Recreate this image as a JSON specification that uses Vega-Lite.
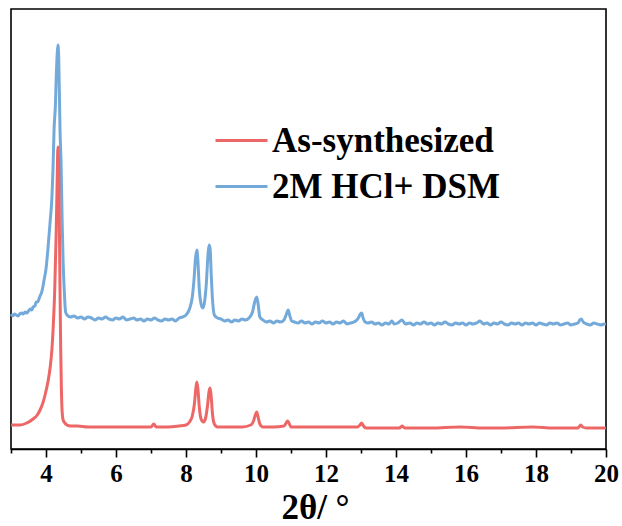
{
  "$schema": "https://vega.github.io/schema/vega-lite/v6.json",
  "width": 595,
  "height": 440,
  "autosize": {"type": "none"},
  "padding": {"left": 11, "top": 9, "right": 16, "bottom": 77},
  "background": "white",
  "config": {
    "view": {"stroke": "black", "strokeWidth": 1.6},
    "font": "Liberation Serif"
  },
  "datasets": {
    "red": [
      {"x":3.00,"y":24},{"x":3.10,"y":24},{"x":3.26,"y":24},{"x":3.45,"y":26},{"x":3.63,"y":30},{"x":3.75,"y":34},{"x":3.83,"y":39},{"x":3.91,"y":46},{"x":3.98,"y":55},{"x":4.06,"y":68},{"x":4.12,"y":82},{"x":4.17,"y":100},{"x":4.21,"y":125},{"x":4.25,"y":160},{"x":4.29,"y":215},{"x":4.32,"y":270},{"x":4.34,"y":302},{"x":4.36,"y":285},{"x":4.38,"y":230},{"x":4.40,"y":160},{"x":4.42,"y":100},{"x":4.44,"y":60},{"x":4.46,"y":38},{"x":4.49,"y":29},{"x":4.54,"y":26},{"x":4.60,"y":24},{"x":4.70,"y":23},{"x":4.90,"y":23},{"x":5.20,"y":22},{"x":5.60,"y":22},{"x":6.00,"y":22},{"x":6.30,"y":22},{"x":6.70,"y":22},{"x":7.00,"y":22},{"x":7.08,"y":25},{"x":7.15,"y":22},{"x":7.50,"y":22},{"x":7.80,"y":23},{"x":8.00,"y":24},{"x":8.10,"y":27},{"x":8.18,"y":33},{"x":8.24,"y":45},{"x":8.28,"y":60},{"x":8.31,"y":67},{"x":8.34,"y":60},{"x":8.38,"y":42},{"x":8.43,"y":30},{"x":8.50,"y":27},{"x":8.56,"y":31},{"x":8.61,"y":42},{"x":8.66,"y":58},{"x":8.69,"y":61},{"x":8.72,"y":52},{"x":8.76,"y":34},{"x":8.81,"y":25},{"x":8.90,"y":22},{"x":9.20,"y":22},{"x":9.60,"y":22},{"x":9.85,"y":24},{"x":9.93,"y":28},{"x":9.98,"y":34},{"x":10.02,"y":37},{"x":10.06,"y":32},{"x":10.11,"y":25},{"x":10.20,"y":22},{"x":10.50,"y":22},{"x":10.80,"y":23},{"x":10.86,"y":26},{"x":10.90,"y":28},{"x":10.94,"y":26},{"x":11.00,"y":22},{"x":11.50,"y":22},{"x":12.00,"y":22},{"x":12.50,"y":22},{"x":12.90,"y":22},{"x":12.97,"y":24},{"x":13.02,"y":26},{"x":13.07,"y":23},{"x":13.15,"y":21},{"x":13.60,"y":21},{"x":14.10,"y":21},{"x":14.17,"y":23},{"x":14.25,"y":21},{"x":15.00,"y":21},{"x":15.83,"y":22},{"x":16.50,"y":21},{"x":17.00,"y":21},{"x":17.90,"y":22},{"x":18.50,"y":21},{"x":19.20,"y":21},{"x":19.25,"y":23},{"x":19.28,"y":24},{"x":19.33,"y":22},{"x":19.45,"y":21},{"x":20.00,"y":21}
    ],
    "blue": [
      {"x":3.00,"y":135},{"x":3.05,"y":133},{"x":3.10,"y":135},{"x":3.15,"y":134},{"x":3.20,"y":133},{"x":3.25,"y":135},{"x":3.30,"y":136},{"x":3.35,"y":135},{"x":3.40,"y":137},{"x":3.45,"y":136},{"x":3.50,"y":138},{"x":3.55,"y":140},{"x":3.60,"y":139},{"x":3.63,"y":142},{"x":3.68,"y":143},{"x":3.72,"y":147},{"x":3.76,"y":147},{"x":3.80,"y":150},{"x":3.83,"y":153},{"x":3.87,"y":156},{"x":3.91,"y":162},{"x":3.95,"y":170},{"x":4.00,"y":180},{"x":4.06,"y":202},{"x":4.12,"y":228},{"x":4.17,"y":252},{"x":4.20,"y":280},{"x":4.23,"y":319},{"x":4.27,"y":345},{"x":4.29,"y":369},{"x":4.32,"y":395},{"x":4.34,"y":404},{"x":4.36,"y":395},{"x":4.38,"y":360},{"x":4.40,"y":320},{"x":4.43,"y":286},{"x":4.46,"y":230},{"x":4.49,"y":186},{"x":4.52,"y":160},{"x":4.56,"y":137},
      {"x":4.60,"y":134},{"x":4.70,"y":132},{"x":4.80,"y":133},{"x":4.90,"y":131},{"x":5.00,"y":132},{"x":5.10,"y":130},{"x":5.20,"y":132},{"x":5.30,"y":131},{"x":5.40,"y":129},{"x":5.50,"y":131},{"x":5.60,"y":130},{"x":5.70,"y":132},{"x":5.80,"y":130},{"x":5.90,"y":129},{"x":6.00,"y":131},{"x":6.10,"y":130},{"x":6.20,"y":132},{"x":6.30,"y":129},{"x":6.40,"y":130},{"x":6.50,"y":131},{"x":6.60,"y":129},{"x":6.70,"y":130},{"x":6.80,"y":128},{"x":6.90,"y":130},{"x":7.00,"y":129},{"x":7.10,"y":131},{"x":7.20,"y":129},{"x":7.30,"y":128},{"x":7.40,"y":130},{"x":7.50,"y":129},{"x":7.60,"y":130},{"x":7.70,"y":128},{"x":7.80,"y":131},{"x":7.90,"y":132},
      {"x":8.00,"y":134},{"x":8.10,"y":140},{"x":8.18,"y":152},{"x":8.23,"y":170},{"x":8.27,"y":190},{"x":8.31,"y":199},{"x":8.34,"y":188},{"x":8.38,"y":160},{"x":8.43,"y":145},{"x":8.48,"y":141},{"x":8.53,"y":147},{"x":8.58,"y":165},{"x":8.63,"y":195},{"x":8.66,"y":204},{"x":8.69,"y":200},{"x":8.72,"y":175},{"x":8.76,"y":148},{"x":8.81,"y":134},{"x":8.90,"y":131},
      {"x":9.00,"y":130},{"x":9.10,"y":128},{"x":9.20,"y":129},{"x":9.30,"y":127},{"x":9.40,"y":129},{"x":9.50,"y":128},{"x":9.60,"y":130},{"x":9.70,"y":129},{"x":9.80,"y":131},{"x":9.90,"y":137},{"x":9.97,"y":148},{"x":10.02,"y":152},{"x":10.06,"y":145},{"x":10.11,"y":132},
      {"x":10.20,"y":129},{"x":10.30,"y":127},{"x":10.40,"y":128},{"x":10.50,"y":126},{"x":10.60,"y":128},{"x":10.70,"y":127},{"x":10.80,"y":129},{"x":10.86,"y":134},{"x":10.92,"y":139},{"x":10.96,"y":134},{"x":11.02,"y":128},
      {"x":11.10,"y":127},{"x":11.20,"y":126},{"x":11.30,"y":128},{"x":11.40,"y":126},{"x":11.50,"y":127},{"x":11.60,"y":125},{"x":11.70,"y":127},{"x":11.80,"y":126},{"x":11.90,"y":128},{"x":12.00,"y":126},{"x":12.10,"y":127},{"x":12.20,"y":125},{"x":12.30,"y":127},{"x":12.40,"y":126},{"x":12.50,"y":128},{"x":12.60,"y":125},{"x":12.70,"y":126},{"x":12.80,"y":127},{"x":12.88,"y":129},{"x":12.94,"y":132},{"x":12.98,"y":135},{"x":13.02,"y":136},{"x":13.06,"y":131},{"x":13.12,"y":127},
      {"x":13.20,"y":126},{"x":13.30,"y":127},{"x":13.40,"y":125},{"x":13.50,"y":126},{"x":13.60,"y":124},{"x":13.70,"y":126},{"x":13.80,"y":125},{"x":13.88,"y":128},{"x":13.95,"y":125},{"x":14.05,"y":126},{"x":14.17,"y":129},{"x":14.27,"y":125},{"x":14.40,"y":126},{"x":14.50,"y":124},{"x":14.60,"y":126},{"x":14.70,"y":125},{"x":14.80,"y":127},{"x":14.90,"y":125},{"x":15.00,"y":126},{"x":15.10,"y":124},{"x":15.20,"y":126},{"x":15.30,"y":125},{"x":15.40,"y":127},{"x":15.50,"y":125},{"x":15.60,"y":124},{"x":15.70,"y":126},{"x":15.80,"y":125},{"x":15.90,"y":126},{"x":16.00,"y":124},{"x":16.10,"y":126},{"x":16.20,"y":125},{"x":16.30,"y":126},{"x":16.40,"y":128},{"x":16.50,"y":125},{"x":16.60,"y":126},{"x":16.70,"y":124},{"x":16.80,"y":126},{"x":16.90,"y":125},{"x":17.00,"y":127},{"x":17.10,"y":125},{"x":17.20,"y":124},{"x":17.30,"y":126},{"x":17.40,"y":125},{"x":17.50,"y":126},{"x":17.60,"y":124},{"x":17.70,"y":126},{"x":17.80,"y":125},{"x":17.90,"y":126},{"x":18.00,"y":124},{"x":18.10,"y":126},{"x":18.20,"y":125},{"x":18.30,"y":124},{"x":18.40,"y":126},{"x":18.50,"y":125},{"x":18.60,"y":126},{"x":18.70,"y":124},{"x":18.80,"y":125},{"x":18.90,"y":126},{"x":19.00,"y":124},{"x":19.10,"y":125},{"x":19.20,"y":126},{"x":19.25,"y":129},{"x":19.29,"y":130},{"x":19.35,"y":127},{"x":19.45,"y":125},{"x":19.55,"y":124},{"x":19.65,"y":126},{"x":19.75,"y":125},{"x":19.85,"y":124},{"x":19.95,"y":125},{"x":20.00,"y":125}
    ]
  },
  "layer": [
    {
      "data": {"name": "blue"},
      "transform": [{"calculate": "'2M HCl+ DSM'", "as": "series"}],
      "mark": {"type": "line", "strokeWidth": 3, "opacity": 0.95, "interpolate": "monotone"},
      "encoding": {
        "x": {"field": "x", "type": "quantitative"},
        "y": {"field": "y", "type": "quantitative"},
        "color": {"field": "series", "type": "nominal"}
      }
    },
    {
      "data": {"name": "red"},
      "transform": [{"calculate": "'As-synthesized'", "as": "series"}],
      "mark": {"type": "line", "strokeWidth": 3, "opacity": 0.95, "interpolate": "monotone"},
      "encoding": {
        "x": {"field": "x", "type": "quantitative"},
        "y": {"field": "y", "type": "quantitative"},
        "color": {"field": "series", "type": "nominal"}
      }
    }
  ],
  "encoding": {
    "x": {
      "field": "x", "type": "quantitative",
      "scale": {"domain": [3, 20], "nice": false, "zero": false},
      "axis": {
        "values": [3,4,5,6,7,8,9,10,11,12,13,14,15,16,17,18,19,20],
        "labelExpr": "datum.value % 2 == 0 ? datum.label : ''",
        "title": "2θ/ °",
        "grid": false,
        "domainColor": "black", "domainWidth": 1.6,
        "tickColor": "black", "tickWidth": 1.6,
        "tickSize": {"condition": {"test": "datum.value % 2 == 0", "value": 8}, "value": 4},
        "labelFont": "Liberation Serif", "labelFontWeight": "bold", "labelFontSize": 25, "labelColor": "black",
        "labelPadding": 4, "labelFlush": false,
        "titleFont": "Liberation Serif", "titleFontWeight": "bold", "titleFontSize": 35, "titleColor": "black",
        "titlePadding": 4, "titleX": 304, "titleAlign": "center"
      }
    },
    "y": {
      "field": "y", "type": "quantitative",
      "scale": {"domain": [0, 440], "nice": false},
      "axis": null
    },
    "color": {
      "field": "series", "type": "nominal",
      "scale": {"domain": ["As-synthesized", "2M HCl+ DSM"], "range": ["#EC5F5F", "#6CA5D7"]},
      "legend": {
        "orient": "none", "legendX": 203, "legendY": 104,
        "title": null,
        "symbolType": "stroke", "symbolSize": 2704, "symbolStrokeWidth": 3,
        "labelFont": "Liberation Serif", "labelFontWeight": "bold", "labelFontSize": 35, "labelColor": "black",
        "labelOffset": 3, "rowPadding": -9, "labelLimit": 400
      }
    }
  }
}
